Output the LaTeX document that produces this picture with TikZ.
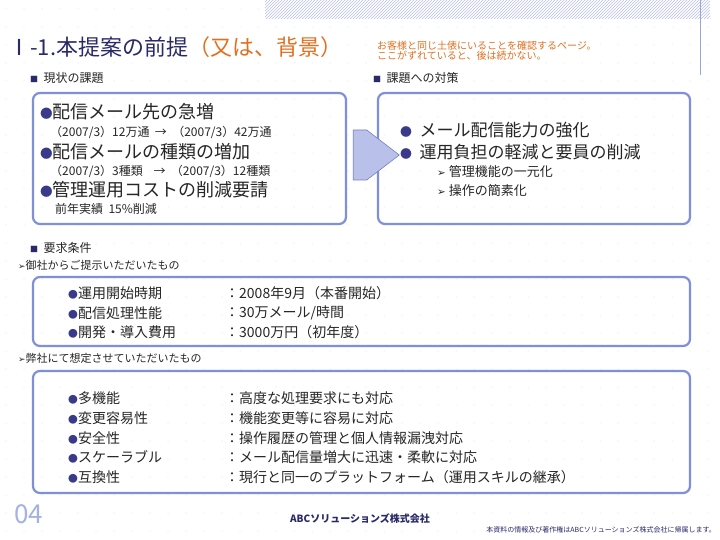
\documentclass[tikz,border=0pt]{standalone}
\usepackage{fontspec}
\setmainfont{Noto Sans CJK JP}
\newfontfamily\dejavu{DejaVu Sans}
\usetikzlibrary{patterns,shapes.arrows}
\definecolor{navy}{HTML}{2A2A6A}
\definecolor{orng}{HTML}{E07020}
\definecolor{boxb}{HTML}{7F8FD8}
\definecolor{dotc}{HTML}{3A3A8A}
\tikzset{
 tx/.style={anchor=west,inner sep=0,text=black!85},
 bx/.style={draw=boxb,line width=2.2pt,rounded corners=7pt},
 fs/.style={font=\fontsize{#1}{#1}\selectfont}
}
\newcommand{\bul}{{\color{dotc}\scalebox{0.7}{●}}}
\newcommand{\arw}{{\dejavu\scalebox{0.8}{➢}}}
\begin{document}
\begin{tikzpicture}[x=1pt,y=-1pt]
\useasboundingbox (0,0) rectangle (720,540);
\fill[white] (0,0) rectangle (720,540);
\foreach \yy in {9,27,...,540} \foreach \xx in {6,24,...,720} \fill[gray!30] (\xx,\yy) circle (0.5);
\fill[white] (265,0) rectangle (710,19);
\fill[pattern=north east lines,pattern color=boxb!55] (265,0) rectangle (710,19);
\draw[boxb!80,line width=0.8pt] (700,0) -- (700,75);
% title
\node[tx,fs=22,text=navy] (t1) at (8,47) {Ⅰ-1.本提案の前提};
\node[tx,fs=22,text=orng] (t2) at (t1.east) {（又は、背景）};
\node[tx,fs=10,text=orng,align=left] (note) at (377,51) {お客様と同じ土俵にいることを確認するページ。\\ここがずれていると、後は続かない。};
\node[tx,fs=12] (h1) at (30,78) {{\color{navy}\fontsize{8}{8}\selectfont■}\ \ 現状の課題};
\node[tx,fs=12] (h2) at (373,78) {{\color{navy}\fontsize{8}{8}\selectfont■}\ \ 課題への対策};
% boxes
\draw[bx] (33,93) rectangle (346,224);
\draw[bx] (378,93) rectangle (690,224);
\node[single arrow,draw=boxb!90!black,fill=boxb!55,minimum height=46pt,minimum width=50pt,single arrow head extend=0pt,inner sep=0pt,single arrow tip angle=75,line width=0.6pt] (arr) at (360,155) {};
\node[tx,fs=18] (l1) at (40,112) {\bul 配信メール先の急増};
\node[tx,fs=12] (l2) at (50,132) {（2007/3）12万通\ \ →\ \ （2007/3）42万通};
\node[tx,fs=18] (l3) at (40,152) {\bul 配信メールの種類の増加};
\node[tx,fs=12] (l4) at (50,171) {（2007/3）3種類\ \ \ \ →\ \ （2007/3）12種類};
\node[tx,fs=18] (l5) at (40,190) {\bul 管理運用コストの削減要請};
\node[tx,fs=12] (l6) at (55,209) {前年実績\ \ 15\%削減};
\node[tx,fs=17] (r1) at (400,130) {\bul\ \ メール配信能力の強化};
\node[tx,fs=17] (r2) at (400,152) {\bul\ \ 運用負担の軽減と要員の削減};
\node[tx,fs=13] (r3) at (437,172) {\arw\ 管理機能の一元化};
\node[tx,fs=13] (r4) at (437,191) {\arw\ 操作の簡素化};
% requirements
\node[tx,fs=12] (h3) at (30,248) {{\color{navy}\fontsize{8}{8}\selectfont■}\ \ 要求条件};
\node[tx,fs=11] (s1) at (18,265) {\arw 御社からご提示いただいたもの};
\draw[bx] (33,277) rectangle (690,346);
\node[tx,fs=14] (a1) at (68,293) {\bul 運用開始時期};
\node[tx,fs=14] (b1) at (225,293) {：2008年9月（本番開始）};
\node[tx,fs=14] (a2) at (68,313) {\bul 配信処理性能};
\node[tx,fs=14] (b2) at (225,313) {：30万メール/時間};
\node[tx,fs=14] (a3) at (68,332) {\bul 開発・導入費用};
\node[tx,fs=14] (b3) at (225,332) {：3000万円（初年度）};
\node[tx,fs=11] (s2) at (18,358) {\arw 弊社にて想定させていただいたもの};
\draw[bx] (33,371) rectangle (690,493);
\node[tx,fs=14] (c1) at (68,398) {\bul 多機能};
\node[tx,fs=14] (d1) at (225,398) {：高度な処理要求にも対応};
\node[tx,fs=14] (c2) at (68,418) {\bul 変更容易性};
\node[tx,fs=14] (d2) at (225,418) {：機能変更等に容易に対応};
\node[tx,fs=14] (c3) at (68,438) {\bul 安全性};
\node[tx,fs=14] (d3) at (225,438) {：操作履歴の管理と個人情報漏洩対応};
\node[tx,fs=14] (c4) at (68,457) {\bul スケーラブル};
\node[tx,fs=14] (d4) at (225,457) {：メール配信量増大に迅速・柔軟に対応};
\node[tx,fs=14] (c5) at (68,477) {\bul 互換性};
\node[tx,fs=14] (d5) at (225,477) {：現行と同一のプラットフォーム（運用スキルの継承）};
% footer
\node[tx,fs=26,text=boxb!70] (pg) at (14,514) {04};
\node[fs=11,text=navy,font=\bfseries] (co) at (360,519) {ABCソリューションズ株式会社};
\node[anchor=east,inner sep=0,fs=7,text=navy] (cp) at (716,530) {本資料の情報及び著作権はABCソリューションズ株式会社に帰属します。};
\end{tikzpicture}
\end{document}
